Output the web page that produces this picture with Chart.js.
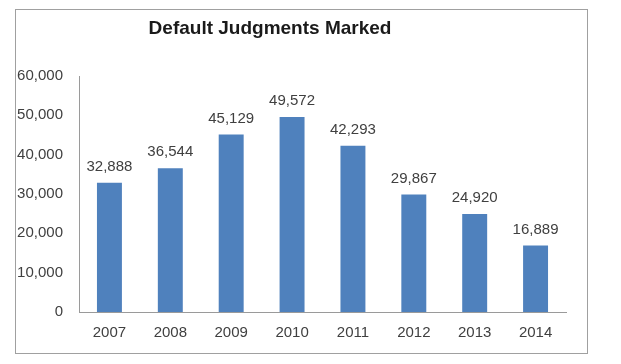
<!DOCTYPE html>
<html>
<head>
<meta charset="utf-8">
<script src="https://cdn.jsdelivr.net/npm/chart.js@4/dist/chart.umd.min.js"></script>
<style>
  html, body { margin: 0; padding: 0; background: #fff; }
  #box {
    position: absolute; left: 15px; top: 9px;
    width: 571px; height: 343px;
    border: 1px solid #a0a0a0;
  }
</style>
</head>
<body>
<div id="box"><canvas id="judgChart" width="571" height="343"></canvas></div>
<script>
// data
const years = ['2007', '2008', '2009', '2010', '2011', '2012', '2013', '2014'];
const judgments = [32888, 36544, 45129, 49572, 42293, 29867, 24920, 16889];
const yTicks = [0, 10000, 20000, 30000, 40000, 50000, 60000];

const chartTitle = 'Default Judgments Marked';
const fontFam = 'Arial, "Liberation Sans", sans-serif';

// title is a bit left of center in the original, so draw it ourselves
const titlePlugin = {
  id: 'offsetTitle',
  afterDraw(chart) {
    const c = chart.ctx;
    c.save();
    c.font = 'bold 19px ' + fontFam;
    c.fillStyle = '#1a1a1a';
    c.textAlign = 'center';
    c.textBaseline = 'middle';
    c.fillText(chartTitle, 254, 19);
    c.restore();
  }
};

// value labels above each bar
const valueLabels = {
  id: 'valueLabels',
  afterDatasetsDraw(chart) {
    const c = chart.ctx;
    const meta = chart.getDatasetMeta(0);
    c.save();
    c.font = '15px ' + fontFam;
    c.fillStyle = '#404040';
    c.textAlign = 'center';
    c.textBaseline = 'middle';
    meta.data.forEach((bar, i) => {
      c.fillText(judgments[i].toLocaleString('en-US'), bar.x, bar.y - 16);
    });
    c.restore();
  }
};

new Chart(document.getElementById('judgChart').getContext('2d'), {
  type: 'bar',
  data: {
    labels: years,
    datasets: [{
      data: judgments,
      backgroundColor: '#4f81bd',
      borderWidth: 0,
      categoryPercentage: 1,
      barPercentage: 0.41
    }]
  },
  options: {
    responsive: false,
    animation: false,
    layout: { padding: { top: 66, right: 21, bottom: 0, left: 0 } },
    plugins: {
      legend: { display: false },
      title: { display: false },
      tooltip: { enabled: false }
    },
    scales: {
      x: {
        grid: { display: false, drawTicks: false },
        border: { display: true, color: '#9a9a9a', width: 1 },
        ticks: { color: '#404040', font: { family: fontFam, size: 15 }, padding: 12 },
        afterFit(scale) { scale.height = 41; }
      },
      y: {
        min: 0,
        max: 60000,
        afterBuildTicks(scale) { scale.ticks = yTicks.map(v => ({ value: v })); },
        grid: { display: false, drawTicks: false },
        border: { display: true, color: '#9a9a9a', width: 1 },
        ticks: {
          color: '#404040',
          font: { family: fontFam, size: 15 },
          padding: 16,
          callback: v => v.toLocaleString('en-US')
        },
        afterFit(scale) { scale.width = 63; }
      }
    }
  },
  plugins: [titlePlugin, valueLabels]
});
</script>
</body>
</html>
